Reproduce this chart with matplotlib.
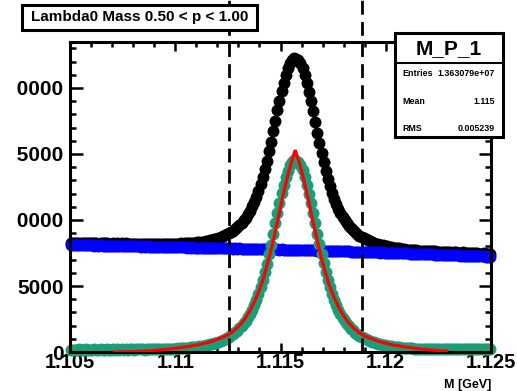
import matplotlib
matplotlib.use("Agg")
import matplotlib.pyplot as plt
from matplotlib.patches import Rectangle
from matplotlib.lines import Line2D
from matplotlib.ticker import FixedLocator, MultipleLocator
from matplotlib.transforms import Bbox, TransformedBbox

plt.rcParams['font.family'] = ['Liberation Sans', 'DejaVu Sans']
plt.rcParams['font.weight'] = 'bold'

# ---- histogram contents: M_P_1, 200 bins of 0.0001 GeV from 1.105 ----
x_lo, bin_width = 1.105, 0.0001

# total (signal + background)
total = [8280, 8285, 8260, 8265, 8295, 8235, 8265, 8285, 8235, 8270,
         8225, 8250, 8255, 8215, 8275, 8235, 8230, 8240, 8215, 8215,
         8260, 8205, 8230, 8185, 8235, 8200, 8245, 8180, 8215, 8205,
         8195, 8205, 8195, 8210, 8200, 8165, 8210, 8180, 8210, 8165,
         8190, 8190, 8190, 8160, 8200, 8175, 8195, 8190, 8195, 8190,
         8210, 8200, 8225, 8210, 8240, 8235, 8255, 8260, 8285, 8280,
         8325, 8325, 8360, 8370, 8415, 8420, 8480, 8490, 8560, 8585,
         8665, 8695, 8785, 8830, 8930, 8995, 9115, 9195, 9340, 9450,
         9630, 9775, 9995, 10180, 10460, 10705, 11030, 11345, 11775, 12190,
         12715, 13230, 13860, 14475, 15200, 15915, 16745, 17510, 18335, 19050,
         19780, 20395, 21020, 21485, 21915, 22130, 22255, 22220, 22150, 21865,
         21490, 20955, 20380, 19695, 19020, 18235, 17460, 16625, 15850, 15065,
         14390, 13705, 13130, 12545, 12070, 11585, 11210, 10825, 10550, 10235,
         10010, 9755, 9580, 9375, 9240, 9065, 8970, 8825, 8750, 8625,
         8570, 8465, 8420, 8325, 8290, 8205, 8180, 8105, 8095, 8025,
         8020, 7960, 7960, 7900, 7895, 7845, 7845, 7800, 7800, 7755,
         7765, 7725, 7730, 7690, 7700, 7670, 7680, 7645, 7645, 7645,
         7620, 7625, 7615, 7625, 7590, 7595, 7595, 7555, 7590, 7555,
         7585, 7535, 7555, 7545, 7520, 7525, 7545, 7500, 7510, 7515,
         7480, 7490, 7480, 7485, 7460, 7460, 7485, 7440, 7445, 7440]

# side-band background
background = [8120, 8100, 8110, 8090, 8100, 8080, 8095, 8085, 8070, 8090,
              8075, 8060, 8080, 8055, 8070, 8050, 8060, 8045, 8055, 8035,
              8050, 8030, 8040, 8020, 8035, 8015, 8030, 8010, 8020, 8000,
              8015, 7995, 8005, 7990, 8000, 7980, 7995, 7975, 7985, 7970,
              7980, 7960, 7975, 7955, 7965, 7950, 7960, 7940, 7955, 7935,
              7945, 7930, 7940, 7920, 7935, 7915, 7925, 7910, 7920, 7900,
              7915, 7895, 7905, 7890, 7900, 7880, 7895, 7875, 7885, 7870,
              7880, 7860, 7870, 7855, 7865, 7850, 7860, 7840, 7850, 7835,
              7845, 7830, 7835, 7820, 7830, 7815, 7820, 7805, 7815, 7800,
              7805, 7790, 7800, 7785, 7790, 7775, 7785, 7770, 7775, 7760,
              7770, 7755, 7760, 7745, 7755, 7740, 7745, 7730, 7740, 7725,
              7730, 7715, 7720, 7705, 7710, 7695, 7700, 7685, 7690, 7675,
              7680, 7665, 7670, 7655, 7660, 7645, 7650, 7635, 7640, 7625,
              7630, 7615, 7620, 7605, 7610, 7595, 7600, 7585, 7590, 7575,
              7580, 7565, 7570, 7555, 7560, 7545, 7550, 7535, 7540, 7525,
              7530, 7515, 7520, 7505, 7505, 7490, 7495, 7480, 7480, 7465,
              7470, 7455, 7455, 7440, 7445, 7430, 7430, 7415, 7420, 7405,
              7405, 7390, 7395, 7380, 7380, 7365, 7370, 7355, 7355, 7340,
              7345, 7330, 7330, 7315, 7320, 7305, 7305, 7290, 7295, 7280,
              7280, 7265, 7270, 7255, 7255, 7240, 7245, 7230, 7230, 7215]

# background-subtracted signal
signal = [160, 185, 150, 175, 195, 155, 170, 200, 165, 180,
          150, 190, 175, 160, 205, 185, 170, 195, 160, 180,
          210, 175, 190, 165, 200, 185, 215, 170, 195, 205,
          180, 210, 190, 220, 200, 185, 215, 205, 225, 195,
          210, 230, 215, 205, 235, 225, 235, 250, 240, 255,
          265, 270, 285, 290, 305, 320, 330, 350, 365, 380,
          410, 430, 455, 480, 515, 540, 585, 615, 675, 715,
          785, 835, 915, 975, 1065, 1145, 1255, 1355, 1490, 1615,
          1785, 1945, 2160, 2360, 2630, 2890, 3210, 3540, 3960, 4390,
          4910, 5440, 6060, 6690, 7410, 8140, 8960, 9740, 10560, 11290,
          12010, 12640, 13260, 13740, 14160, 14390, 14510, 14490, 14410, 14140,
          13760, 13240, 12660, 11990, 11310, 10540, 9760, 8940, 8160, 7390,
          6710, 6040, 5460, 4890, 4410, 3940, 3560, 3190, 2910, 2610,
          2380, 2140, 1960, 1770, 1630, 1470, 1370, 1240, 1160, 1050,
          990, 900, 850, 770, 730, 660, 630, 570, 555, 500,
          490, 445, 440, 395, 390, 355, 350, 320, 320, 290,
          295, 270, 275, 250, 255, 240, 250, 230, 225, 240,
          215, 235, 220, 245, 210, 230, 225, 200, 235, 215,
          240, 205, 225, 230, 200, 220, 240, 210, 215, 235,
          200, 225, 210, 230, 205, 220, 240, 210, 215, 225]

# fitted peak shape, sampled every 0.0002 GeV from 1.1071 to 1.1229
fit_start, fit_step = 1.1071, 0.0002
fit = [5, 9, 14, 20, 28, 38, 50, 65, 85, 105,
       130, 160, 190, 225, 260, 300, 345, 390, 440, 490,
       550, 620, 700, 790, 900, 1020, 1150, 1300, 1500, 1780,
       2100, 2500, 3000, 3600, 4300, 5150, 6200, 7400, 8750, 10200,
       11700, 13100, 14300, 15300, 14300, 13100, 11700, 10200, 8750, 7400,
       6200, 5150, 4300, 3600, 3000, 2500, 2100, 1780, 1500, 1300,
       1150, 1020, 900, 790, 700, 620, 550, 490, 440, 390,
       345, 300, 260, 225, 190, 160, 130, 105, 85, 65]

x_ticks = [1.105, 1.11, 1.115, 1.12, 1.125]
x_ticklabels = ["1.105", "1.11", "1.115", "1.12", "1.125"]
y_ticks = [0, 5000, 10000, 15000, 20000]
y_ticklabels = ["0", "5000", "10000", "15000", "20000"]

mass_window = [1.11255, 1.11885]

title_text = "Lambda0 Mass 0.50 < p < 1.00"
hist_name = "M_P_1"
stats = [("Entries", "1.363079e+07"), ("Mean", "1.115"), ("RMS", "0.005239")]

# ---- figure ----
W, H = 517, 391
fig = plt.figure(figsize=(W / 100, H / 100), dpi=100)
ax_l, ax_r, ax_t, ax_b = 70, 491, 42, 352
ax = fig.add_axes([ax_l / W, 1 - ax_b / H, (ax_r - ax_l) / W, (ax_b - ax_t) / H])

centers = [x_lo + bin_width * (i + 0.5) for i in range(len(total))]
fit_x = [fit_start + fit_step * j for j in range(len(fit))]

mk = dict(ls='none', marker='o', ms=8.6, mew=0, clip_on=False)
ax.plot(centers, total, color='black', zorder=2, **mk)
ax.plot(centers, background, color='#0000ff', zorder=2.1, **mk)
ax.plot(centers, signal, color='#1b9e77', zorder=2.2, **mk)
ax.plot(fit_x, fit, color='#ff0000', lw=2.3, zorder=4, solid_joinstyle='miter')

top_ext = 1 + ax_t / (ax_b - ax_t)
for xv in mass_window:
    ax.axvline(xv, ymin=0, ymax=top_ext, color='black', lw=2.0,
               ls=(0, (5, 2.6)), clip_on=False, zorder=3)

ax.set_xlim(1.105, 1.125)
ax.set_ylim(0, (ax_b - ax_t) * 5000 / 66)

ax.xaxis.set_major_locator(FixedLocator(x_ticks))
ax.xaxis.set_minor_locator(MultipleLocator(0.001))
ax.set_xticklabels(x_ticklabels)
ax.yaxis.set_major_locator(FixedLocator(y_ticks))
ax.yaxis.set_minor_locator(MultipleLocator(1000))
ax.set_yticklabels(y_ticklabels)

ax.tick_params(which='both', direction='in', top=True, right=True, width=1.8)
ax.tick_params(axis='x', which='major', length=6.8, pad=1, labelsize=14.5)
ax.tick_params(axis='x', which='minor', length=3.4)
ax.tick_params(axis='y', which='major', length=9, pad=4.5, labelsize=15)
ax.tick_params(axis='y', which='minor', length=4.5)
for lbl in ax.get_xticklabels() + ax.get_yticklabels():
    lbl.set_fontweight('bold')
for sp in ax.spines.values():
    sp.set_linewidth(2.2)

fig.text(491 / W, 1 - 388 / H, "M [GeV]", ha='right', va='baseline',
         fontsize=9, fontweight='bold')

# labels of the y axis are cut by the canvas border
fig.canvas.draw()
clip = TransformedBbox(Bbox.from_extents(16.5 / W, 0, 1, 1), fig.transFigure)
for t in ax.yaxis.get_major_ticks():
    t.label1.set_clip_box(clip)
    t.label1.set_clip_on(True)

# title pave
fig.patches.append(Rectangle((22 / W, 1 - 30 / H), 235 / W, 25 / H,
                             transform=fig.transFigure, fc='white', ec='black',
                             lw=2.2, zorder=5))
fig.text(139.5 / W, 1 - 17.5 / H, title_text, ha='center', va='center',
         fontsize=11, fontweight='bold', zorder=6)

# statistics box
sx0, sx1, sy0, sy1, sdiv = 395, 503, 33, 137, 63
fig.patches.append(Rectangle((sx0 / W, 1 - sy1 / H), (sx1 - sx0) / W, (sy1 - sy0) / H,
                             transform=fig.transFigure, fc='white', ec='black',
                             lw=2.2, zorder=5))
fig.lines.append(Line2D([sx0 / W, sx1 / W], [1 - sdiv / H, 1 - sdiv / H],
                        transform=fig.transFigure, color='black', lw=1.5, zorder=6))
fig.text((sx0 + sx1) / 2 / W, 1 - 49 / H, hist_name, ha='center', va='center',
         fontsize=15, fontweight='bold', zorder=6)
for (name, val), yy in zip(stats, [73, 102, 128]):
    fig.text(402 / W, 1 - yy / H, name, ha='left', va='center', fontsize=6.4,
             fontweight='bold', zorder=6)
    fig.text(495 / W, 1 - yy / H, val, ha='right', va='center', fontsize=6.4,
             fontweight='bold', zorder=6)

fig.savefig("out.png", dpi=100)
